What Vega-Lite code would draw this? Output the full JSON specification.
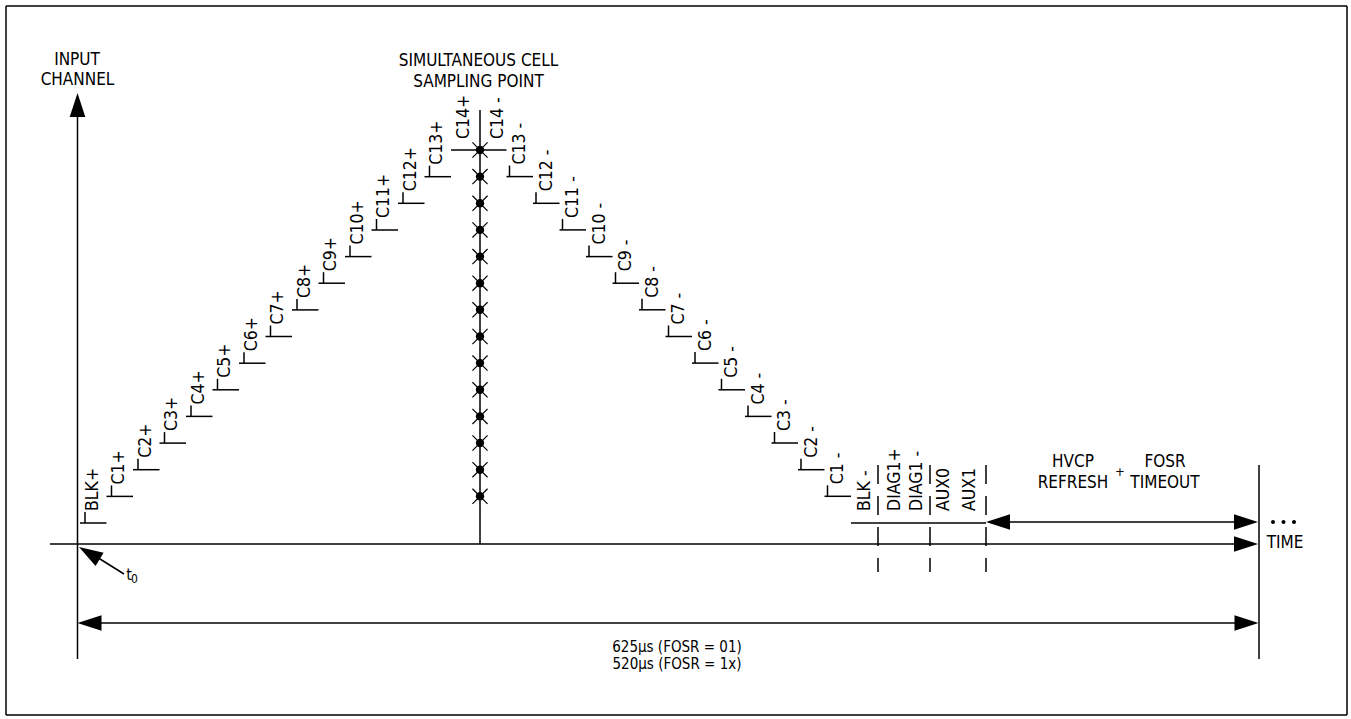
{
  "$schema": "https://vega.github.io/schema/vega-lite/v6.json",
  "width": 1351,
  "height": 719,
  "autosize": {"type": "fit", "contains": "padding"},
  "padding": 0,
  "background": "white",
  "config": {"view": {"stroke": null}, "text": {"font": "DejaVu Sans Condensed, Liberation Sans Narrow, sans-serif"}},
  "datasets": {
    "segs": [
      {"x": 6, "y": 6, "x2": 1347, "y2": 6},
      {"x": 6, "y": 715, "x2": 1347, "y2": 715},
      {"x": 6, "y": 6, "x2": 6, "y2": 715},
      {"x": 1347, "y": 6, "x2": 1347, "y2": 715},
      {"x": 77.5, "y": 105, "x2": 77.5, "y2": 659},
      {"x": 50, "y": 544, "x2": 1245, "y2": 544},
      {"x": 1259, "y": 465, "x2": 1259, "y2": 659},
      {"x": 85, "y": 623, "x2": 1250, "y2": 623},
      {"x": 995, "y": 522, "x2": 1250, "y2": 522},
      {"x": 851, "y": 523, "x2": 986, "y2": 523},
      {"x": 480, "y": 110, "x2": 480, "y2": 544},
      {"x": 92, "y": 554, "x2": 124, "y2": 574},
      {"x": 80, "y": 523, "x2": 106.5, "y2": 523},
      {"x": 106.5, "y": 496.4, "x2": 133, "y2": 496.4},
      {"x": 133, "y": 469.7, "x2": 159.5, "y2": 469.7},
      {"x": 159.5, "y": 443.1, "x2": 186, "y2": 443.1},
      {"x": 186, "y": 416.4, "x2": 212.5, "y2": 416.4},
      {"x": 212.5, "y": 389.8, "x2": 239, "y2": 389.8},
      {"x": 239, "y": 363.2, "x2": 265.5, "y2": 363.2},
      {"x": 265.5, "y": 336.5, "x2": 292, "y2": 336.5},
      {"x": 292, "y": 309.9, "x2": 318.5, "y2": 309.9},
      {"x": 318.5, "y": 283.2, "x2": 345, "y2": 283.2},
      {"x": 345, "y": 256.6, "x2": 371.5, "y2": 256.6},
      {"x": 371.5, "y": 230, "x2": 398, "y2": 230},
      {"x": 398, "y": 203.3, "x2": 424.5, "y2": 203.3},
      {"x": 424.5, "y": 176.7, "x2": 451, "y2": 176.7},
      {"x": 451, "y": 150, "x2": 506.5, "y2": 150},
      {"x": 506.5, "y": 176.6, "x2": 533, "y2": 176.6},
      {"x": 533, "y": 203.3, "x2": 559.5, "y2": 203.3},
      {"x": 559.5, "y": 229.9, "x2": 586, "y2": 229.9},
      {"x": 586, "y": 256.6, "x2": 612.5, "y2": 256.6},
      {"x": 612.5, "y": 283.2, "x2": 639, "y2": 283.2},
      {"x": 639, "y": 309.8, "x2": 665.5, "y2": 309.8},
      {"x": 665.5, "y": 336.5, "x2": 692, "y2": 336.5},
      {"x": 692, "y": 363.1, "x2": 718.5, "y2": 363.1},
      {"x": 718.5, "y": 389.8, "x2": 745, "y2": 389.8},
      {"x": 745, "y": 416.4, "x2": 771.5, "y2": 416.4},
      {"x": 771.5, "y": 443, "x2": 798, "y2": 443},
      {"x": 798, "y": 469.7, "x2": 824.5, "y2": 469.7},
      {"x": 824.5, "y": 496.3, "x2": 851, "y2": 496.3},
      {"x": 85, "y": 512, "x2": 85, "y2": 523},
      {"x": 111.5, "y": 485.4, "x2": 111.5, "y2": 496.4},
      {"x": 138, "y": 458.7, "x2": 138, "y2": 469.7},
      {"x": 164.5, "y": 432.1, "x2": 164.5, "y2": 443.1},
      {"x": 191, "y": 405.4, "x2": 191, "y2": 416.4},
      {"x": 217.5, "y": 378.8, "x2": 217.5, "y2": 389.8},
      {"x": 244, "y": 352.2, "x2": 244, "y2": 363.2},
      {"x": 270.5, "y": 325.5, "x2": 270.5, "y2": 336.5},
      {"x": 297, "y": 298.9, "x2": 297, "y2": 309.9},
      {"x": 323.5, "y": 272.2, "x2": 323.5, "y2": 283.2},
      {"x": 350, "y": 245.6, "x2": 350, "y2": 256.6},
      {"x": 376.5, "y": 219, "x2": 376.5, "y2": 230},
      {"x": 403, "y": 192.3, "x2": 403, "y2": 203.3},
      {"x": 429.5, "y": 165.7, "x2": 429.5, "y2": 176.7},
      {"x": 509.5, "y": 165.6, "x2": 509.5, "y2": 176.6},
      {"x": 536, "y": 192.3, "x2": 536, "y2": 203.3},
      {"x": 562.5, "y": 218.9, "x2": 562.5, "y2": 229.9},
      {"x": 589, "y": 245.6, "x2": 589, "y2": 256.6},
      {"x": 615.5, "y": 272.2, "x2": 615.5, "y2": 283.2},
      {"x": 642, "y": 298.8, "x2": 642, "y2": 309.8},
      {"x": 668.5, "y": 325.5, "x2": 668.5, "y2": 336.5},
      {"x": 695, "y": 352.1, "x2": 695, "y2": 363.1},
      {"x": 721.5, "y": 378.8, "x2": 721.5, "y2": 389.8},
      {"x": 748, "y": 405.4, "x2": 748, "y2": 416.4},
      {"x": 774.5, "y": 432, "x2": 774.5, "y2": 443},
      {"x": 801, "y": 458.7, "x2": 801, "y2": 469.7},
      {"x": 827.5, "y": 485.3, "x2": 827.5, "y2": 496.3}
    ],
    "dashed": [
      {"x": 878, "y": 465, "x2": 878, "y2": 572},
      {"x": 930, "y": 465, "x2": 930, "y2": 572},
      {"x": 986, "y": 465, "x2": 986, "y2": 572}
    ],
    "arrows": [
      {"x": 77.5, "y": 93, "ang": 270},
      {"x": 1258, "y": 544, "ang": 0},
      {"x": 986, "y": 522, "ang": 180},
      {"x": 1258, "y": 522, "ang": 0},
      {"x": 77.5, "y": 623, "ang": 180},
      {"x": 1258.5, "y": 623, "ang": 0},
      {"x": 79, "y": 547, "ang": 211}
    ],
    "markers": [
      {"x": 480, "y": 150}, {"x": 480, "y": 176.6}, {"x": 480, "y": 203.3}, {"x": 480, "y": 229.9},
      {"x": 480, "y": 256.6}, {"x": 480, "y": 283.2}, {"x": 480, "y": 309.8}, {"x": 480, "y": 336.5},
      {"x": 480, "y": 363.1}, {"x": 480, "y": 389.8}, {"x": 480, "y": 416.4}, {"x": 480, "y": 443},
      {"x": 480, "y": 469.7}, {"x": 480, "y": 496.3}
    ],
    "dots": [
      {"x": 1273, "y": 522}, {"x": 1283.5, "y": 522}, {"x": 1294, "y": 522}
    ],
    "vlabels": [
      {"x": 92.5, "y": 511, "t": "BLK+"},
      {"x": 119, "y": 484.4, "t": "C1+"},
      {"x": 145.5, "y": 457.7, "t": "C2+"},
      {"x": 172, "y": 431.1, "t": "C3+"},
      {"x": 198.5, "y": 404.4, "t": "C4+"},
      {"x": 225, "y": 377.8, "t": "C5+"},
      {"x": 251.5, "y": 351.2, "t": "C6+"},
      {"x": 278, "y": 324.5, "t": "C7+"},
      {"x": 304.5, "y": 297.9, "t": "C8+"},
      {"x": 331, "y": 271.2, "t": "C9+"},
      {"x": 357.5, "y": 244.6, "t": "C10+"},
      {"x": 384, "y": 218, "t": "C11+"},
      {"x": 410.5, "y": 191.3, "t": "C12+"},
      {"x": 437, "y": 164.7, "t": "C13+"},
      {"x": 463.5, "y": 139, "t": "C14+"},
      {"x": 497.5, "y": 139, "t": "C14 -"},
      {"x": 520, "y": 164.6, "t": "C13 -"},
      {"x": 546.5, "y": 191.3, "t": "C12 -"},
      {"x": 573, "y": 217.9, "t": "C11 -"},
      {"x": 599.5, "y": 244.6, "t": "C10 -"},
      {"x": 626, "y": 271.2, "t": "C9 -"},
      {"x": 652.5, "y": 297.8, "t": "C8 -"},
      {"x": 679, "y": 324.5, "t": "C7 -"},
      {"x": 705.5, "y": 351.1, "t": "C6 -"},
      {"x": 732, "y": 377.8, "t": "C5 -"},
      {"x": 758.5, "y": 404.4, "t": "C4 -"},
      {"x": 785, "y": 431, "t": "C3 -"},
      {"x": 811.5, "y": 457.7, "t": "C2 -"},
      {"x": 838, "y": 484.3, "t": "C1 -"},
      {"x": 865, "y": 511, "t": "BLK -"},
      {"x": 895, "y": 511, "t": "DIAG1+"},
      {"x": 917, "y": 511, "t": "DIAG1 -"},
      {"x": 944, "y": 511, "t": "AUX0"},
      {"x": 970, "y": 511, "t": "AUX1"}
    ],
    "hlabels": [
      {"x": 77, "y": 59.5, "t": "INPUT", "s": 17},
      {"x": 77.5, "y": 79.5, "t": "CHANNEL", "s": 17},
      {"x": 478.5, "y": 61, "t": "SIMULTANEOUS CELL", "s": 17},
      {"x": 478.5, "y": 82, "t": "SAMPLING POINT", "s": 17},
      {"x": 1073, "y": 462, "t": "HVCP", "s": 17},
      {"x": 1073, "y": 483, "t": "REFRESH", "s": 17},
      {"x": 1120, "y": 472, "t": "+", "s": 13},
      {"x": 1165, "y": 462, "t": "FOSR", "s": 17},
      {"x": 1165, "y": 483, "t": "TIMEOUT", "s": 17},
      {"x": 1285, "y": 543, "t": "TIME", "s": 17},
      {"x": 129, "y": 575, "t": "t", "s": 16},
      {"x": 134.5, "y": 579, "t": "0", "s": 12},
      {"x": 677, "y": 647, "t": "625µs (FOSR = 01)", "s": 15},
      {"x": 677, "y": 664, "t": "520µs (FOSR = 1x)", "s": 15}
    ]
  },
  "encoding": {
    "x": {"field": "x", "type": "quantitative", "scale": {"domain": [0, 1351], "nice": false, "zero": false}, "axis": null},
    "y": {"field": "y", "type": "quantitative", "scale": {"domain": [0, 719], "reverse": true, "nice": false, "zero": false}, "axis": null}
  },
  "layer": [
    {
      "data": {"name": "segs"},
      "mark": {"type": "rule", "color": "black", "strokeWidth": 1.5},
      "encoding": {"x2": {"field": "x2"}, "y2": {"field": "y2"}}
    },
    {
      "data": {"name": "dashed"},
      "mark": {"type": "rule", "color": "black", "strokeWidth": 1.5, "strokeDash": [19, 12]},
      "encoding": {"x2": {"field": "x2"}, "y2": {"field": "y2"}}
    },
    {
      "data": {"name": "arrows"},
      "mark": {"type": "point", "shape": "M0,0L-2,-0.65L-2,0.65Z", "filled": true, "color": "black", "size": 576, "opacity": 1, "strokeWidth": 0},
      "encoding": {"angle": {"field": "ang", "type": "quantitative", "scale": null}}
    },
    {
      "data": {"name": "markers"},
      "mark": {"type": "point", "shape": "circle", "filled": true, "color": "black", "size": 70, "opacity": 1}
    },
    {
      "data": {"name": "markers"},
      "mark": {"type": "point", "shape": "M-1,-1L1,1M-1,1L1,-1", "filled": false, "color": "black", "size": 230, "strokeWidth": 1.2, "opacity": 1}
    },
    {
      "data": {"name": "dots"},
      "mark": {"type": "point", "shape": "circle", "filled": true, "color": "black", "size": 16, "opacity": 1}
    },
    {
      "data": {"name": "vlabels"},
      "mark": {"type": "text", "angle": 270, "align": "left", "baseline": "middle", "fontSize": 17.5, "color": "black"},
      "encoding": {"text": {"field": "t"}}
    },
    {
      "data": {"name": "hlabels"},
      "mark": {"type": "text", "align": "center", "baseline": "middle", "color": "black"},
      "encoding": {"text": {"field": "t"}, "size": {"field": "s", "type": "quantitative", "scale": null}}
    }
  ]
}
